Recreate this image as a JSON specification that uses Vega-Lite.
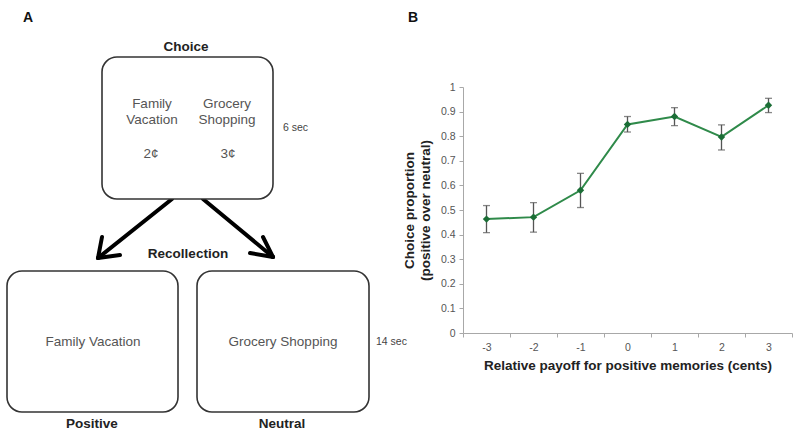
{
  "$schema": "https://vega.github.io/schema/vega-lite/v6.json",
  "padding": {"top": 11, "left": 0, "right": 0, "bottom": 0},
  "background": "white",
  "spacing": 55,
  "bounds": "flush",
  "config": {
    "view": {"stroke": null},
    "font": "Liberation Sans",
    "axis": {
      "grid": false,
      "domainColor": "#a8a8a8",
      "tickColor": "#a8a8a8",
      "labelColor": "#555555",
      "labelFont": "Liberation Sans",
      "labelFontSize": 10.5,
      "titleFont": "Liberation Sans",
      "titleFontSize": 13.5,
      "titleFontWeight": "bold",
      "titleColor": "#222222",
      "tickSize": 4
    }
  },
  "datasets": {
    "boxes": [
      {"box": "choice", "x0": 25.5, "x1": 68.25, "y0": 6.75, "y1": 42.25},
      {"box": "positive", "x0": 1.75, "x1": 44.5, "y0": 60.25, "y1": 95.5},
      {"box": "neutral", "x0": 49.25, "x1": 92.25, "y0": 60.25, "y1": 95.5}
    ],
    "arrows": [
      {"seg": "left shaft", "x0": 43, "y0": 42.25, "x1": 24.5, "y1": 57},
      {"seg": "left head a", "x0": 24.5, "y0": 57, "x1": 25.5, "y1": 51.75},
      {"seg": "left head b", "x0": 24.5, "y0": 57, "x1": 30, "y1": 56.25},
      {"seg": "right shaft", "x0": 50.75, "y0": 42.25, "x1": 68.25, "y1": 56.75},
      {"seg": "right head a", "x0": 68.25, "y0": 56.75, "x1": 65.75, "y1": 51.75},
      {"seg": "right head b", "x0": 68.25, "y0": 56.75, "x1": 62.5, "y1": 55.75}
    ],
    "labels": [
      {"text": "Choice", "kind": "heading", "x": 46.5, "y": 4.25},
      {"text": "Recollection", "kind": "heading", "x": 47, "y": 56},
      {"text": "Positive", "kind": "heading", "x": 23, "y": 98.5},
      {"text": "Neutral", "kind": "heading", "x": 70.5, "y": 98.5},
      {"text": "Family", "kind": "content", "x": 38, "y": 18.5},
      {"text": "Vacation", "kind": "content", "x": 38, "y": 22.5},
      {"text": "Grocery", "kind": "content", "x": 56.75, "y": 18.5},
      {"text": "Shopping", "kind": "content", "x": 56.75, "y": 22.5},
      {"text": "2¢", "kind": "content", "x": 37.75, "y": 31},
      {"text": "3¢", "kind": "content", "x": 57, "y": 31},
      {"text": "Family Vacation", "kind": "content", "x": 23.25, "y": 78},
      {"text": "Grocery Shopping", "kind": "content", "x": 70.75, "y": 78},
      {"text": "6 sec", "kind": "timing", "x": 70.75, "y": 24.5},
      {"text": "14 sec", "kind": "timing", "x": 94, "y": 78}
    ],
    "choices": [
      {"payoff": -3, "prop": 0.463, "lo": 0.408, "hi": 0.518},
      {"payoff": -2, "prop": 0.471, "lo": 0.41, "hi": 0.53},
      {"payoff": -1, "prop": 0.58, "lo": 0.51, "hi": 0.649},
      {"payoff": 0, "prop": 0.848, "lo": 0.817, "hi": 0.88},
      {"payoff": 1, "prop": 0.88, "lo": 0.843, "hi": 0.916},
      {"payoff": 2, "prop": 0.797, "lo": 0.744, "hi": 0.846},
      {"payoff": 3, "prop": 0.926, "lo": 0.896, "hi": 0.954}
    ],
    "nothing": []
  },
  "hconcat": [
    {
      "width": 408,
      "height": 408,
      "title": {"text": "A", "anchor": "start", "frame": "group", "fontSize": 14, "fontWeight": "bold", "color": "#111111", "dx": 23, "offset": 5},
      "layer": [
        {
          "data": {"name": "arrows"},
          "mark": {"type": "rule", "color": "#000000", "strokeWidth": 4, "strokeCap": "round"},
          "encoding": {
            "x": {"field": "x0", "type": "quantitative", "scale": {"domain": [0, 102], "nice": false, "zero": false}, "axis": null},
            "y": {"field": "y0", "type": "quantitative", "scale": {"domain": [0, 102], "nice": false, "zero": false, "reverse": true}, "axis": null},
            "x2": {"field": "x1"},
            "y2": {"field": "y1"}
          }
        },
        {
          "data": {"name": "boxes"},
          "mark": {"type": "rect", "fill": "white", "stroke": "#333333", "strokeWidth": 1.6, "cornerRadius": 15},
          "encoding": {
            "x": {"field": "x0", "type": "quantitative"},
            "x2": {"field": "x1"},
            "y": {"field": "y0", "type": "quantitative"},
            "y2": {"field": "y1"}
          }
        },
        {
          "data": {"name": "labels"},
          "transform": [{"filter": "datum.kind === 'heading'"}],
          "mark": {"type": "text", "fontSize": 13.5, "fontWeight": "bold", "color": "#222222", "align": "center", "baseline": "middle"},
          "encoding": {
            "x": {"field": "x", "type": "quantitative"},
            "y": {"field": "y", "type": "quantitative"},
            "text": {"field": "text"}
          }
        },
        {
          "data": {"name": "labels"},
          "transform": [{"filter": "datum.kind === 'content'"}],
          "mark": {"type": "text", "fontSize": 13.5, "color": "#555555", "align": "center", "baseline": "middle"},
          "encoding": {
            "x": {"field": "x", "type": "quantitative"},
            "y": {"field": "y", "type": "quantitative"},
            "text": {"field": "text"}
          }
        },
        {
          "data": {"name": "labels"},
          "transform": [{"filter": "datum.kind === 'timing'"}],
          "mark": {"type": "text", "fontSize": 10.5, "color": "#444444", "align": "left", "baseline": "middle"},
          "encoding": {
            "x": {"field": "x", "type": "quantitative"},
            "y": {"field": "y", "type": "quantitative"},
            "text": {"field": "text"}
          }
        }
      ]
    },
    {
      "spacing": 0,
      "bounds": "flush",
      "vconcat": [
        {
          "width": 329,
          "height": 57,
          "title": {"text": "B", "anchor": "start", "frame": "group", "fontSize": 14, "fontWeight": "bold", "color": "#111111", "dx": -55, "offset": 5},
          "data": {"name": "nothing"},
          "mark": "point"
        },
        {
          "width": 329,
          "height": 246,
          "data": {"name": "choices"},
          "encoding": {
            "x": {
              "field": "payoff",
              "type": "ordinal",
              "scale": {"type": "band", "paddingInner": 0, "paddingOuter": 0},
              "axis": {"tickBand": "extent", "labelAngle": 0, "labelPadding": 5, "titlePadding": 6, "title": "Relative payoff for positive memories (cents)"}
            }
          },
          "layer": [
            {
              "mark": {"type": "rule", "color": "#555555", "strokeWidth": 1.3},
              "encoding": {
                "y": {"field": "lo", "type": "quantitative", "scale": {"domain": [0, 1]}, "axis": {"values": [0, 0.1, 0.2, 0.3, 0.4, 0.5, 0.6, 0.7, 0.8, 0.9, 1], "format": ".1~f", "labelOverlap": false, "labelPadding": 4, "titlePadding": 8, "title": ["Choice proportion", "(positive over neutral)"]}},
                "y2": {"field": "hi"}
              }
            },
            {
              "mark": {"type": "tick", "color": "#555555", "thickness": 1.3, "size": 7},
              "encoding": {"y": {"field": "lo", "type": "quantitative", "scale": {"domain": [0, 1]}, "axis": {"values": [0, 0.1, 0.2, 0.3, 0.4, 0.5, 0.6, 0.7, 0.8, 0.9, 1], "format": ".1~f", "labelOverlap": false, "labelPadding": 4, "titlePadding": 8, "title": ["Choice proportion", "(positive over neutral)"]}}}
            },
            {
              "mark": {"type": "tick", "color": "#555555", "thickness": 1.3, "size": 7},
              "encoding": {"y": {"field": "hi", "type": "quantitative", "scale": {"domain": [0, 1]}, "axis": {"values": [0, 0.1, 0.2, 0.3, 0.4, 0.5, 0.6, 0.7, 0.8, 0.9, 1], "format": ".1~f", "labelOverlap": false, "labelPadding": 4, "titlePadding": 8, "title": ["Choice proportion", "(positive over neutral)"]}}}
            },
            {
              "mark": {"type": "line", "color": "#2f8a4a", "strokeWidth": 2},
              "encoding": {"y": {"field": "prop", "type": "quantitative", "scale": {"domain": [0, 1]}, "axis": {"values": [0, 0.1, 0.2, 0.3, 0.4, 0.5, 0.6, 0.7, 0.8, 0.9, 1], "format": ".1~f", "labelOverlap": false, "labelPadding": 4, "titlePadding": 8, "title": ["Choice proportion", "(positive over neutral)"]}}}
            },
            {
              "mark": {"type": "point", "shape": "diamond", "filled": true, "opacity": 1, "color": "#1b6e36", "size": 55},
              "encoding": {"y": {"field": "prop", "type": "quantitative", "scale": {"domain": [0, 1]}, "axis": {"values": [0, 0.1, 0.2, 0.3, 0.4, 0.5, 0.6, 0.7, 0.8, 0.9, 1], "format": ".1~f", "labelOverlap": false, "labelPadding": 4, "titlePadding": 8, "title": ["Choice proportion", "(positive over neutral)"]}}}
            }
          ]
        }
      ]
    }
  ]
}
